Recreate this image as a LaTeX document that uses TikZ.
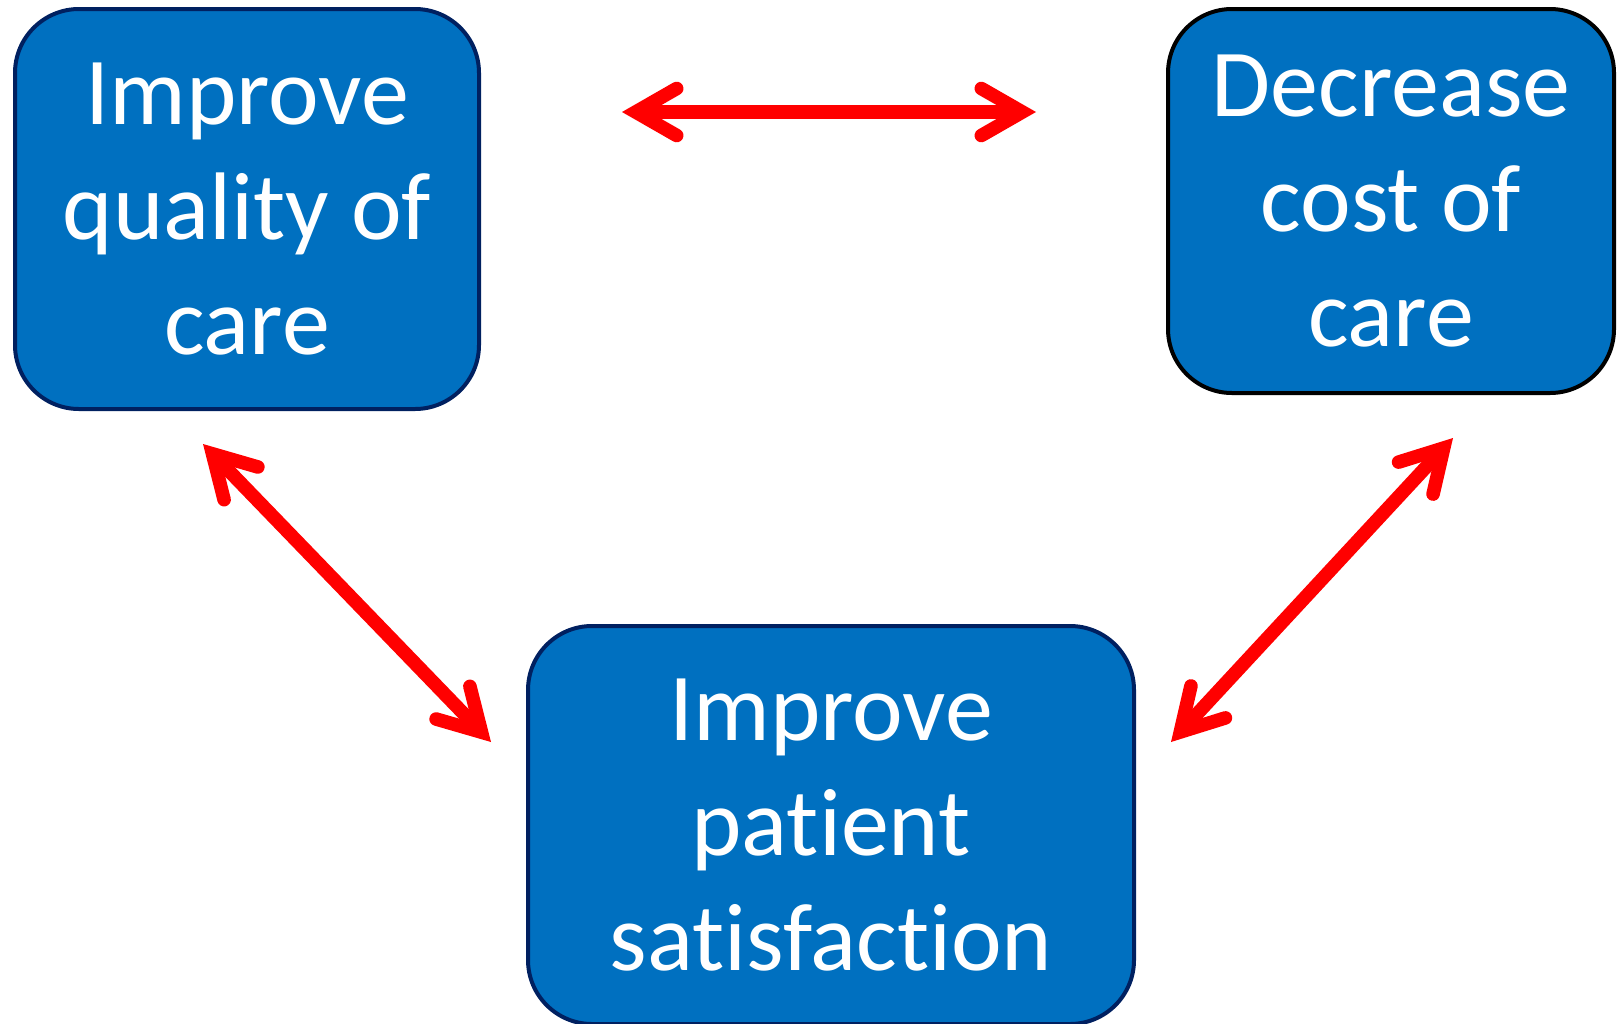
\documentclass[tikz,border=0pt]{standalone}
\usepackage{fontspec}
\setmainfont{Carlito}[Ligatures=NoCommon]
\usetikzlibrary{arrows.meta}
\definecolor{boxblue}{HTML}{0070C0}
\definecolor{navy}{HTML}{002060}
\definecolor{arrowred}{HTML}{FF0000}
\tikzset{
  box/.style={rectangle, rounded corners=32pt, fill=boxblue, draw=navy, line width=2pt,
    inner sep=0pt, outer sep=0pt, text=white, align=center,
    font=\fontsize{48}{57.5}\selectfont},
  barbtip/.tip={Straight Barb[length=20.5pt,width=23.5pt,line cap=round,line join=miter]},
  link/.style={draw=arrowred, line width=6.8pt, barbtip-barbtip}
}
\begin{document}
\begin{tikzpicture}[x=0.5pt,y=-0.5pt]
\useasboundingbox (0,0) rectangle (1622,1023);
\node[box, minimum width=232pt, minimum height=200pt] (quality) at (247,209)
  {Improve\\quality of\\care};
\node[box, draw=black, minimum width=223pt, minimum height=192pt] (cost) at (1391,201)
  {Decrease\\cost of\\care};
\node[box, minimum width=303pt, minimum height=199pt] (patient) at (831,825)
  {Improve\\patient\\satisfaction};
\draw[link] ([shift={(143,103)}]quality.north east) -- ([shift={(-132,103)}]cost.north west);
\draw[link] ([shift={(188,35)}]quality.south west) -- ([shift={(-37,116)}]patient.north west);
\draw[link] ([shift={(285,45)}]cost.south west) -- ([shift={(37,116)}]patient.north east);
\end{tikzpicture}
\end{document}
